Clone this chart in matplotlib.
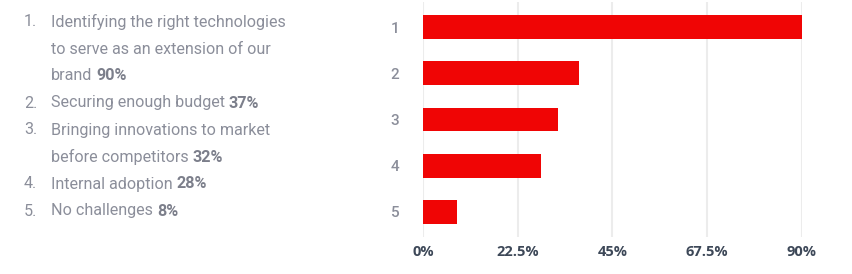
import matplotlib.pyplot as plt
import numpy as np

ranks = ['1', '2', '3', '4', '5']
values = [90, 37, 32, 28, 8]
labels = [
    ['Identifying the right technologies', 'to serve as an extension of our', 'brand'],
    ['Securing enough budget'],
    ['Bringing innovations to market', 'before competitors'],
    ['Internal adoption'],
    ['No challenges'],
]
xticks = [0, 22.5, 45, 67.5, 90]
xtick_labels = ['0%', '22.5%', '45%', '67.5%', '90%']

RED = '#f00505'
GRAY = '#8b8e9a'
DARK = '#3d4858'

fig = plt.figure(figsize=(8.53, 2.74), dpi=100)
W, H = 853, 274

# bar chart on the right
ax = fig.add_axes([423 / W, 1 - 237 / H, (802 - 423) / W, 235 / H])
y = np.arange(len(values))
ax.barh(y, values, height=0.52, color=RED, zorder=3)
ax.set_xlim(0, 90)
ax.set_ylim(4.55, -0.55)
ax.set_yticks(y)
ax.set_yticklabels(ranks, fontsize=11, color=GRAY, fontfamily='Roboto', fontweight='medium')
ax.set_xticks(xticks)
ax.set_xticklabels(xtick_labels, fontsize=10.5, color=DARK, fontfamily='Open Sans', fontweight='bold')
ax.tick_params(axis='y', length=0, pad=17)
ax.tick_params(axis='x', length=0, pad=6)
ax.grid(axis='x', color='#ececec', linewidth=1.5, zorder=0)
for s in ax.spines.values():
    s.set_visible(False)

# numbered list on the left
renderer = fig.canvas.get_renderer()
line_y = 22
step = 27
for i, lines in enumerate(labels):
    fig.text(24 / W, 1 - line_y / H, f'{i + 1}.', fontsize=11.6, color=GRAY,
             fontfamily='Roboto', va='center', ha='left')
    for j, line in enumerate(lines):
        t = fig.text(51 / W, 1 - line_y / H, line, fontsize=11.6, color=GRAY,
                     fontfamily='Roboto', va='center', ha='left')
        if j == len(lines) - 1:
            bb = t.get_window_extent(renderer)
            fig.text((bb.x1 + 4) / W, 1 - line_y / H, f'{values[i]}%', fontsize=11.6,
                     color='#7c7f8b', fontfamily='Roboto', fontweight='bold',
                     va='center', ha='left')
        line_y += step

fig.savefig('out.png', dpi=100)
